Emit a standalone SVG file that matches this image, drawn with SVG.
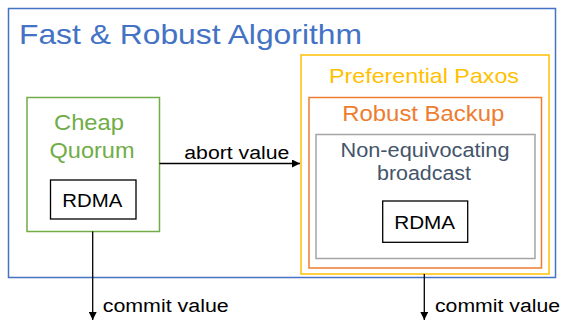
<svg xmlns="http://www.w3.org/2000/svg" width="564" height="320" viewBox="0 0 564 320">
<style>
text{font-family:"Liberation Sans",Arial,sans-serif;}
.box{fill:none;stroke-width:1.5;}
.rd{fill:#fff;stroke:#000;stroke-width:1.3;}
.lbl{font-size:18px;fill:#000;}
.c{text-anchor:middle;}
.conn{stroke:#000;stroke-width:1.3;fill:none;marker-end:url(#ah);}
</style>
<defs>
<marker id="ah" viewBox="0 0 10 10" refX="10" refY="5" markerWidth="8" markerHeight="8" markerUnits="userSpaceOnUse" orient="auto">
<path d="M0,0 L10,5 L0,10 z" fill="#000"/>
</marker>
</defs>
<rect width="564" height="320" fill="#fff"/>
<g id="fast-robust">
<rect class="box" x="8.5" y="8.5" width="547" height="269" stroke="#4472C4"/>
<text x="19" y="43.5" font-size="28" fill="#4472C4" textLength="343" lengthAdjust="spacingAndGlyphs">Fast &amp; Robust Algorithm</text>
</g>
<g id="cheap-quorum">
<rect class="box" x="27" y="97.5" width="132.5" height="134" stroke="#70AD47"/>
<text x="89" y="129.5" font-size="22" fill="#70AD47" class="c" textLength="70" lengthAdjust="spacingAndGlyphs">Cheap</text>
<text x="92" y="157.5" font-size="22" fill="#70AD47" class="c" textLength="85" lengthAdjust="spacingAndGlyphs">Quorum</text>
</g>
<g id="rdma-left">
<rect class="rd" x="50.5" y="180" width="85.5" height="39"/>
<text x="92.3" y="206.5" font-size="18.5" class="c" textLength="60" lengthAdjust="spacingAndGlyphs">RDMA</text>
</g>
<g id="preferential-paxos">
<rect class="box" x="301" y="55" width="248" height="219" stroke="#FFC000"/>
<text x="424" y="83.3" font-size="21" fill="#FFC000" class="c" textLength="190" lengthAdjust="spacingAndGlyphs">Preferential Paxos</text>
</g>
<g id="robust-backup">
<rect class="box" x="309" y="97.5" width="232.5" height="170.5" stroke="#ED7D31"/>
<text x="423.3" y="121" font-size="21.5" fill="#ED7D31" class="c" textLength="162" lengthAdjust="spacingAndGlyphs">Robust Backup</text>
</g>
<g id="non-equivocating">
<rect class="box" x="316" y="134.5" width="219" height="124" stroke="#A5A5A5"/>
<text x="425" y="156.7" font-size="19.5" fill="#44546A" class="c" textLength="169" lengthAdjust="spacingAndGlyphs">Non-equivocating</text>
<text x="424" y="180" font-size="19.5" fill="#44546A" class="c" textLength="94" lengthAdjust="spacingAndGlyphs">broadcast</text>
</g>
<g id="rdma-right">
<rect class="rd" x="382.7" y="201" width="85" height="41.3"/>
<text x="424.7" y="229" font-size="18.5" class="c" textLength="61" lengthAdjust="spacingAndGlyphs">RDMA</text>
</g>
<g id="connectors">
<path class="conn" d="M159.5,163.5 H300"/>
<text class="lbl" x="184.3" y="159.3" textLength="105" lengthAdjust="spacingAndGlyphs">abort value</text>
<path class="conn" d="M92.7,231.5 V320"/>
<text class="lbl" x="102.7" y="311.7" textLength="126" lengthAdjust="spacingAndGlyphs">commit value</text>
<path class="conn" d="M424.3,274 V320"/>
<text class="lbl" x="435" y="311.7" textLength="125" lengthAdjust="spacingAndGlyphs">commit value</text>
</g>
</svg>
